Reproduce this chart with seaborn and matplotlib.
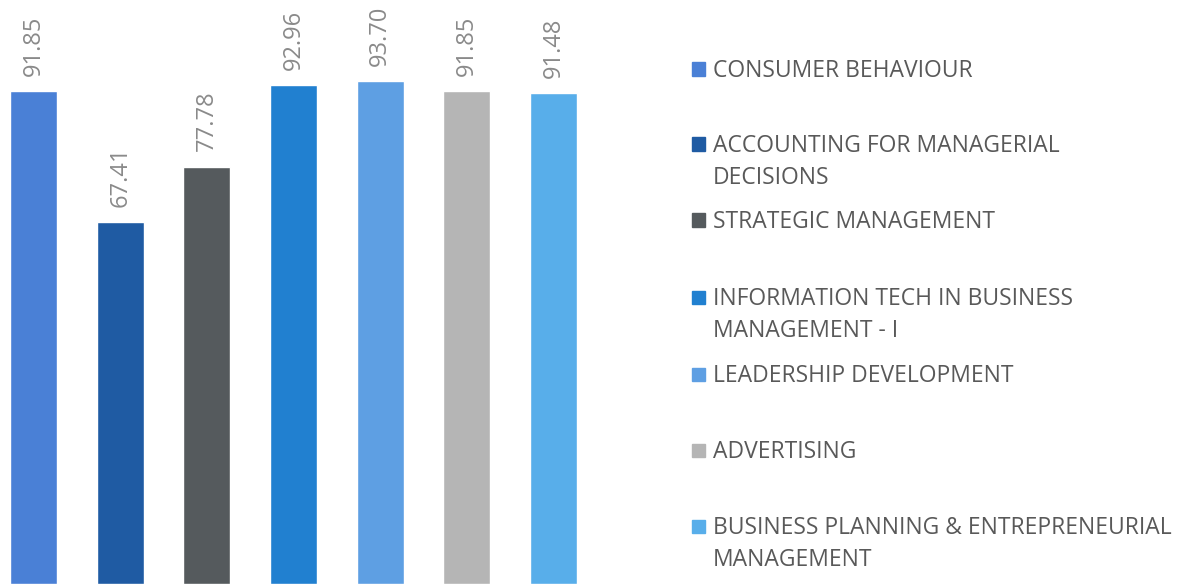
import matplotlib
matplotlib.use("Agg")
import matplotlib.pyplot as plt
import matplotlib.patches as mpatches
import seaborn as sns
import pandas as pd

# данные с графика
subjects = [
    "CONSUMER BEHAVIOUR",
    "ACCOUNTING FOR MANAGERIAL\nDECISIONS",
    "STRATEGIC MANAGEMENT",
    "INFORMATION TECH IN BUSINESS\nMANAGEMENT - I",
    "LEADERSHIP DEVELOPMENT",
    "ADVERTISING",
    "BUSINESS PLANNING & ENTREPRENEURIAL\nMANAGEMENT",
]
scores = [91.85, 67.41, 77.78, 92.96, 93.70, 91.85, 91.48]
bar_colors = ["#4a80d6", "#1f5ba3", "#555a5d", "#2180d0", "#5e9fe3", "#b5b5b5", "#58aeea"]

sns.set_style("white")
plt.rcParams["font.family"] = ["Open Sans", "DejaVu Sans"]

W, H = 1187, 584
fig = plt.figure(figsize=(W / 100, H / 100), dpi=100)
ax = fig.add_axes([0, 0, 620 / W, 1])

df = pd.DataFrame({"subject": subjects, "score": scores})
sns.barplot(data=df, x="subject", y="score", hue="subject", palette=bar_colors,
            order=subjects, hue_order=subjects, dodge=False, legend=False,
            width=0.54, saturation=1, ax=ax)

for cont in ax.containers:
    ax.bar_label(cont, fmt="%.2f", rotation=90, padding=11,
                 fontsize=17, color="#8a8a8a")

# масштаб: центр первого столбца ~33 px, шаг ~86.7 px
ax.set_xlim(-33.5 / 86.67, (620 - 33.5) / 86.67)
ax.set_ylim(0, 108.8)
ax.axis("off")

# легенда вручную (многострочные подписи)
row_y = [69, 144, 220, 297, 374, 450, 526]
for name, col, y in zip(subjects, bar_colors, row_y):
    fy = 1 - y / H
    fig.patches.append(mpatches.Rectangle((692 / W, fy - 6.5 / H), 13 / W, 13 / H,
                                          transform=fig.transFigure, color=col))
    fig.text(713 / W, 1 - (y - 10) / H, name, fontsize=16.5, color="#595959",
             va="top", ha="left", linespacing=1.45)

fig.savefig("out.png", dpi=100)
